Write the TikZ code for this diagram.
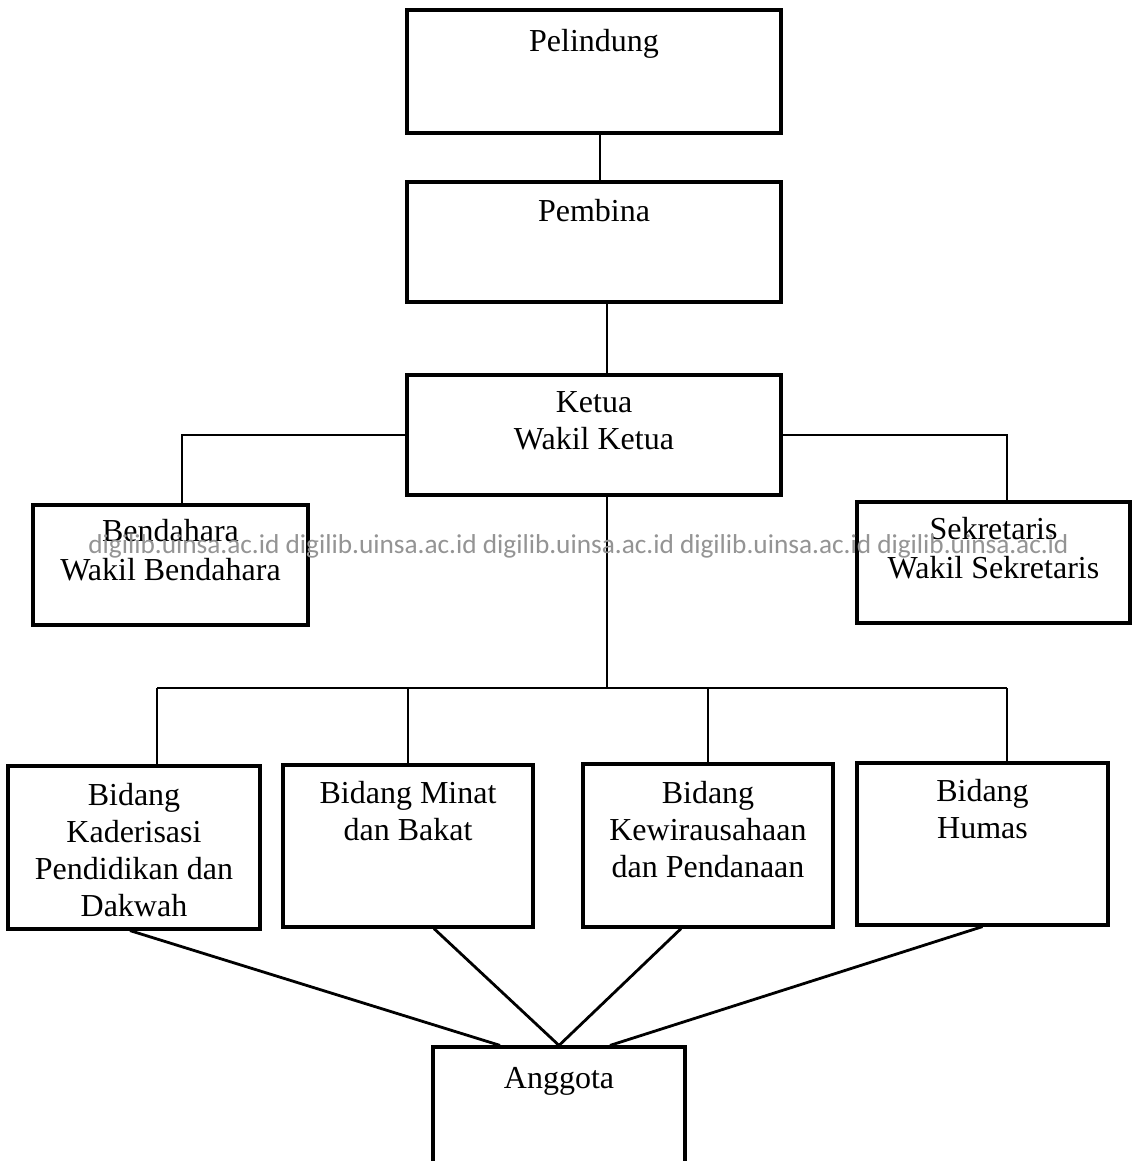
\documentclass[tikz,border=0pt]{standalone}
\usepackage{fontspec}
\setmainfont{Liberation Serif}
\newfontfamily\wmfont{Carlito}
\begin{document}
\begin{tikzpicture}[x=0.5pt,y=-0.5pt,
  box/.style={draw,line width=1.6pt,rectangle,inner sep=0pt},
  txt/.style={anchor=north,inner sep=0pt,align=center,font=\fontsize{16}{18.5}\selectfont},
  txtw/.style={anchor=north,inner sep=0pt,align=center,font=\fontsize{16}{19.5}\selectfont},
  conn/.style={line width=1.4pt}]
\fill[white] (0,0) rectangle (1132,1161);
\clip (0,0) rectangle (1132,1161);
% boxes
\node[box,minimum width=187pt,minimum height=61.5pt] (pel) at (594,71.5) {};
\node[box,minimum width=187pt,minimum height=60pt] (pem) at (594,242) {};
\node[box,minimum width=187pt,minimum height=60pt] (ket) at (594,435) {};
\node[box,minimum width=137.5pt,minimum height=60pt] (ben) at (170.5,565) {};
\node[box,minimum width=136.5pt,minimum height=60.5pt] (sek) at (993.5,562.5) {};
\node[box,minimum width=126pt,minimum height=81.5pt] (b1) at (134,847.5) {};
\node[box,minimum width=125pt,minimum height=81pt] (b2) at (408,846) {};
\node[box,minimum width=125pt,minimum height=81.5pt] (b3) at (708,845.5) {};
\node[box,minimum width=125.5pt,minimum height=81pt] (b4) at (982.5,844) {};
\node[box,minimum width=126pt,minimum height=76.5pt] (ang) at (559,1123.5) {};
% texts
\node[txt] (pelt) at ([yshift=-8.5pt]pel.north) {\strut Pelindung};
\node[txt] (pemt) at ([yshift=-7.5pt]pem.north) {\strut Pembina};
\node[txt] (kett) at ([yshift=-6.5pt]ket.north) {\strut Ketua\\Wakil Ketua};
\node[txtw] (bent) at ([yshift=-5.35pt]ben.north) {\strut Bendahara\\Wakil Bendahara};
\node[txtw] (sekt) at ([yshift=-5.85pt]sek.north) {\strut Sekretaris\\Wakil Sekretaris};
\node[txt] (b1t) at ([yshift=-7.5pt]b1.north) {\strut Bidang\\Kaderisasi\\Pendidikan dan\\Dakwah};
\node[txt] (b2t) at ([yshift=-7pt]b2.north) {\strut Bidang Minat\\dan Bakat};
\node[txt] (b3t) at ([yshift=-7.5pt]b3.north) {\strut Bidang\\Kewirausahaan\\dan Pendanaan};
\node[txt] (b4t) at ([yshift=-7pt]b4.north) {\strut Bidang\\Humas};
\node[txt] (angt) at ([yshift=-8.5pt]ang.north) {\strut Anggota};
% connectors
\draw[conn] ([xshift=3pt]pel.south) -- ([xshift=3pt]pem.north);
\draw[conn] ([xshift=6.5pt]pem.south) -- ([xshift=6.5pt]ket.north);
\draw[conn] (ket.west) -| ([xshift=5.75pt]ben.north);
\draw[conn] (ket.east) -| ([xshift=6.75pt]sek.north);
\coordinate (bus) at (607,688);
\coordinate (busL) at (157,688);
\coordinate (busR) at (1007,688);
\draw[conn] ([xshift=6.5pt]ket.south) -- (bus);
\draw[conn] (busL) -- (busR);
\draw[conn] (busL) -- ([xshift=11.5pt]b1.north);
\draw[conn] (b2.north |- busL) -- (b2.north);
\draw[conn] (b3.north |- busL) -- (b3.north);
\draw[conn] (busR) -- ([xshift=12.25pt]b4.north);
\draw[conn] ([xshift=-2pt]b1.south) -- ([xshift=-29.5pt]ang.north);
\draw[conn] ([xshift=13pt]b2.south) -- (ang.north);
\draw[conn] ([xshift=-13.5pt]b3.south) -- (ang.north);
\draw[conn] (b4.south) -- ([xshift=25.5pt]ang.north);
% watermark
\node[anchor=base west,inner sep=0pt,text=black!42,font=\wmfont\fontsize{13.65}{16}\selectfont] (wm) at (88,553) {digilib.uinsa.ac.id digilib.uinsa.ac.id digilib.uinsa.ac.id digilib.uinsa.ac.id digilib.uinsa.ac.id};
\end{tikzpicture}
\end{document}
